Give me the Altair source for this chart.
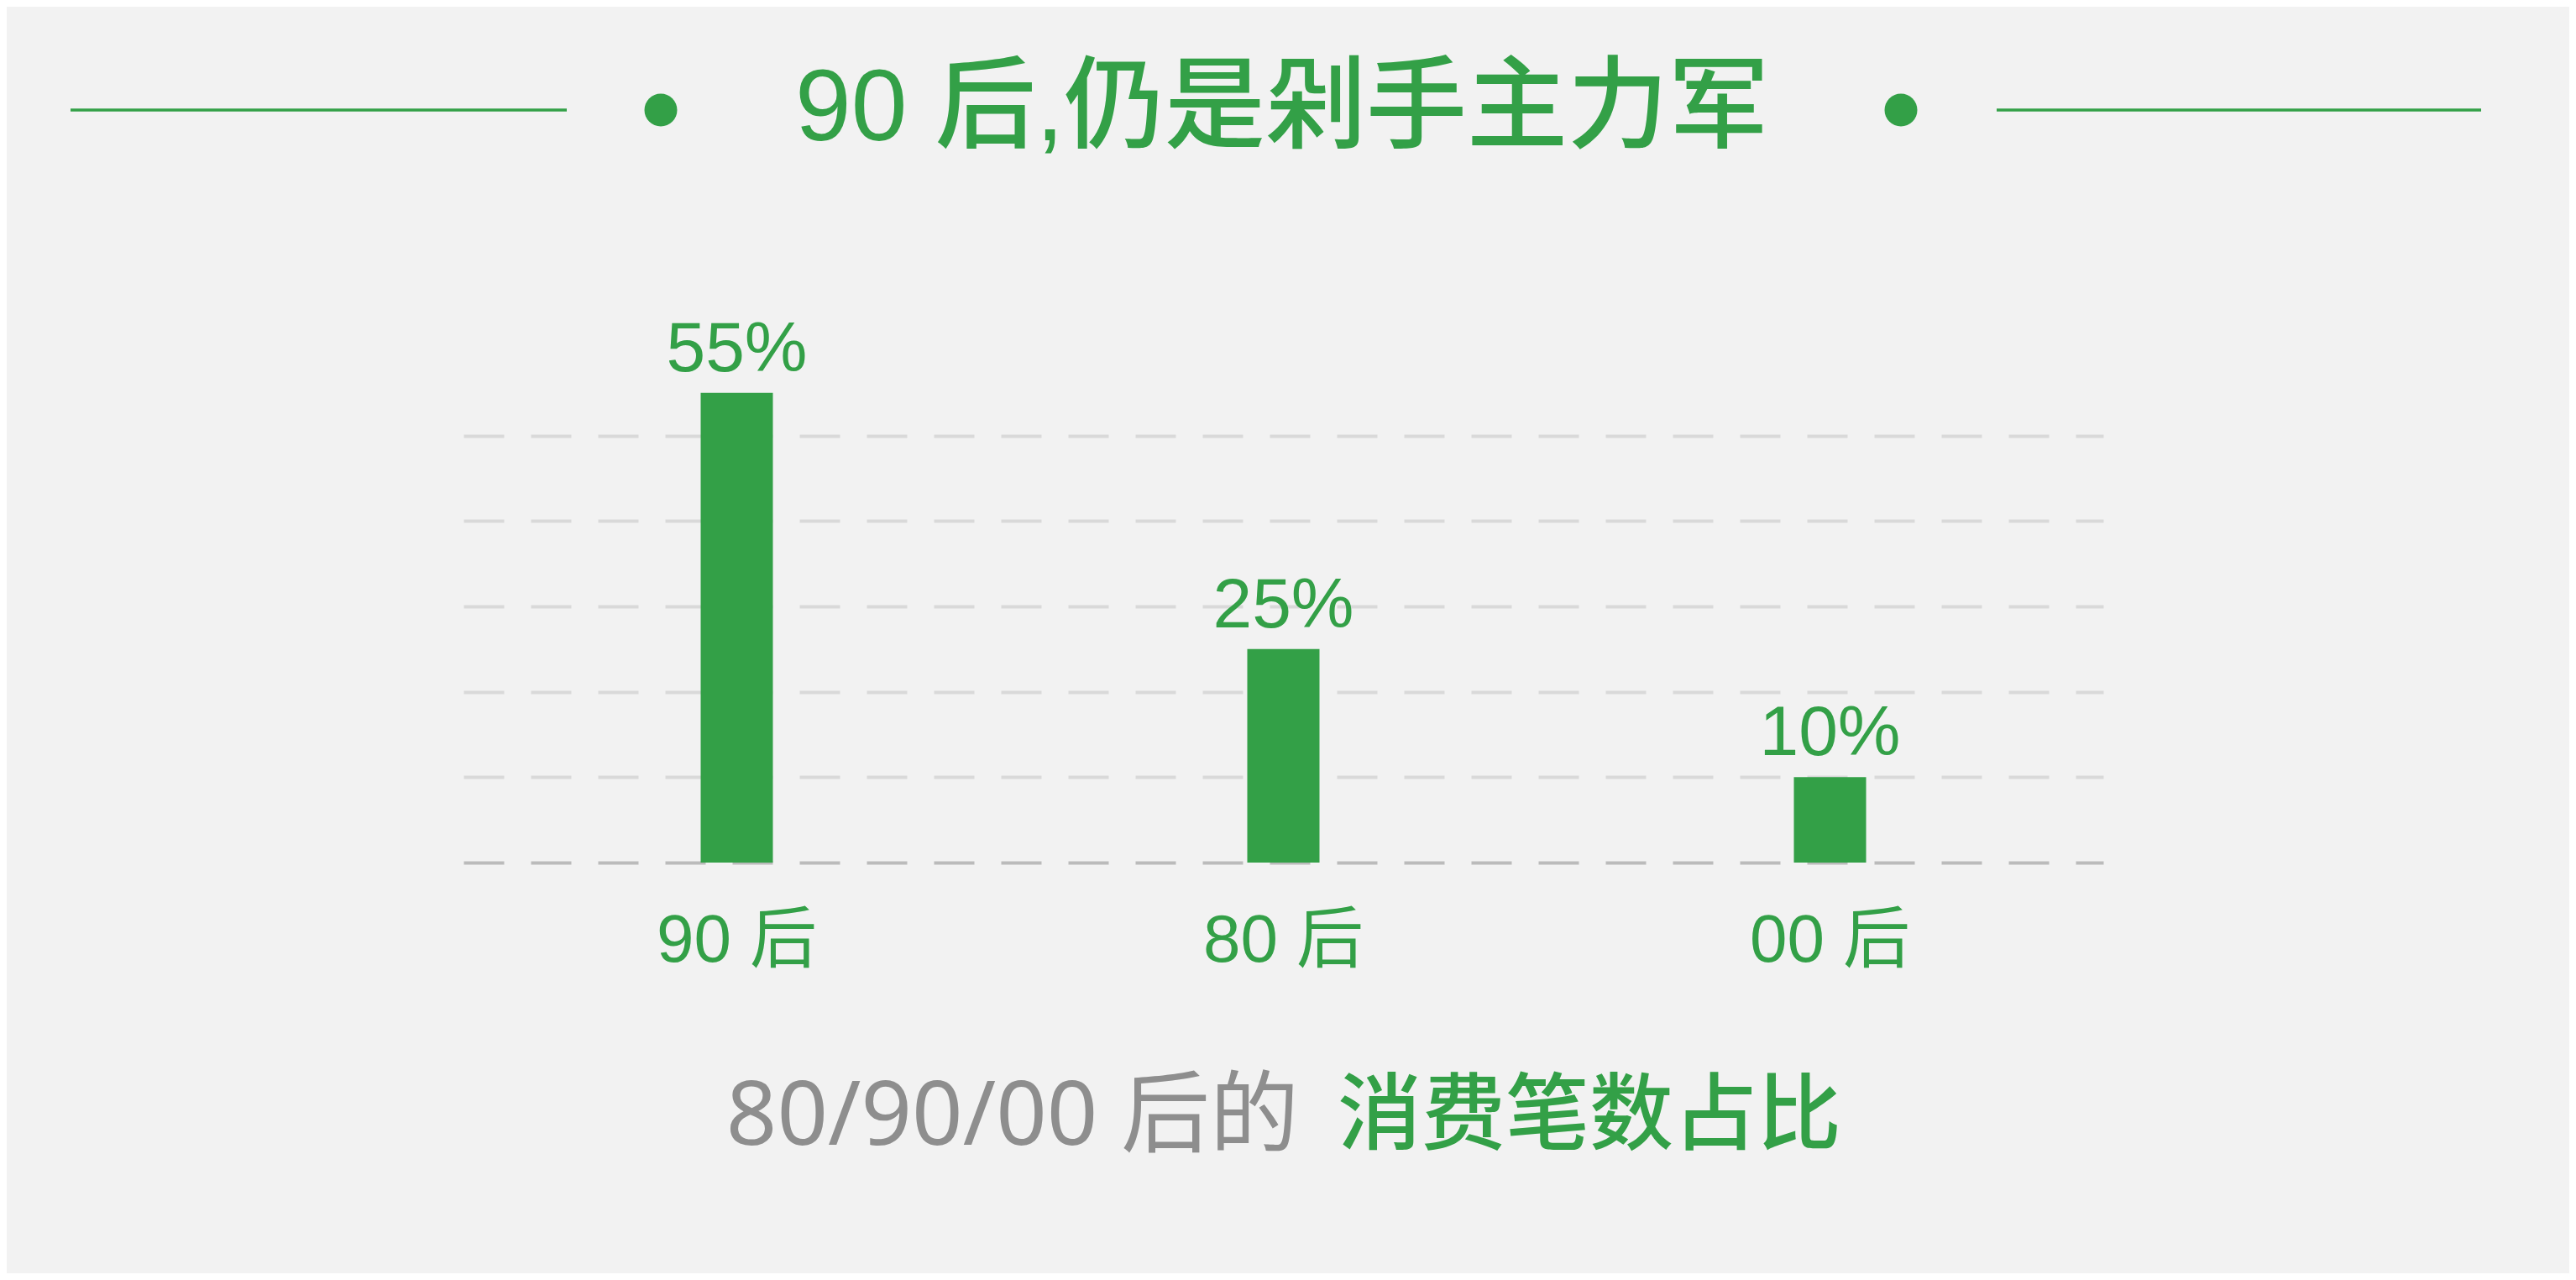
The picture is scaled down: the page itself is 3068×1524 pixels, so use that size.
import altair as alt
import pandas as pd

# ---- data ----
categories = ["90 后", "80 后", "00 后"]
shares = [55, 25, 10]
share_labels = ["55%", "25%", "10%"]
grid_values = [10, 20, 30, 40, 50]

title_text = "90 后,仍是剁手主力军"
subtitle_gray = "80/90/00 后的"
subtitle_green = "消费笔数占比"

GREEN = "#33A047"
GRAY_TEXT = "#8E8E8E"
BG = "#F2F2F2"
FONT = "Liberation Sans, Noto Sans CJK SC"
FONT2 = "Noto Sans, Noto Sans CJK SC"

df = pd.DataFrame({"cat": categories, "v": shares, "lab": share_labels})

xenc = alt.X(
    "cat:N",
    sort=categories,
    scale=alt.Scale(paddingInner=0, paddingOuter=0),
    axis=alt.Axis(
        title=None,
        labelAngle=0,
        labelFontSize=80,
        labelColor=GREEN,
        labelFont=FONT,
        labelPadding=54,
        labelLimit=1000,
        ticks=False,
        grid=False,
        domain=True,
        domainColor="#BBBBBB",
        domainWidth=4,
        domainDash=[48, 32],
    ),
)
yenc = alt.Y(
    "v:Q",
    scale=alt.Scale(domain=[0, 60], nice=False),
    axis=alt.Axis(
        title=None,
        values=grid_values,
        labels=False,
        ticks=False,
        domain=False,
        grid=True,
        gridColor="#D9D9D9",
        gridWidth=4,
        gridDash=[48, 32],
    ),
)

base = alt.Chart(df)
bars = base.mark_bar(color=GREEN, size=86).encode(x=xenc, y=yenc)
vals = base.mark_text(
    color=GREEN, fontSize=84, font=FONT, baseline="alphabetic", dy=-26
).encode(x=alt.X("cat:N", sort=categories), y="v:Q", text="lab:N")

one = pd.DataFrame({"a": [0]})

title = alt.Chart(pd.DataFrame({"t": [title_text]})).mark_text(
    color=GREEN, fontSize=120, fontWeight=500, font=FONT, baseline="middle", align="center"
).encode(x=alt.value(975), y=alt.value(-286), text="t:N")

line_l = alt.Chart(one).mark_rule(color=GREEN, strokeWidth=3.5).encode(
    x=alt.value(-468), x2=alt.value(123), y=alt.value(-286)
)
line_r = alt.Chart(one).mark_rule(color=GREEN, strokeWidth=3.5).encode(
    x=alt.value(1826), x2=alt.value(2403), y=alt.value(-286)
)
dot_l = alt.Chart(one).mark_circle(color=GREEN, opacity=1, size=1520).encode(
    x=alt.value(235), y=alt.value(-286)
)
dot_r = alt.Chart(one).mark_circle(color=GREEN, opacity=1, size=1520).encode(
    x=alt.value(1712), y=alt.value(-286)
)

sub_g = alt.Chart(pd.DataFrame({"t": [subtitle_gray]})).mark_text(
    color=GRAY_TEXT, fontSize=106, font=FONT2, baseline="middle", align="right"
).encode(x=alt.value(995), y=alt.value(914), text="t:N")
sub_h = alt.Chart(pd.DataFrame({"t": [subtitle_green]})).mark_text(
    color=GREEN, fontSize=100, fontWeight=500, font=FONT, baseline="middle", align="left"
).encode(x=alt.value(1041), y=alt.value(914), text="t:N")

chart = (
    alt.layer(bars, vals, title, line_l, line_r, dot_l, dot_r, sub_g, sub_h)
    .properties(
        width=1953,
        height=610,
        autosize=alt.AutoSizeParams(type="none"),
        padding={"left": 544, "top": 409, "right": 555, "bottom": 489},
        background=BG,
    )
    .configure_view(stroke=None)
)

chart.save("out.html", embed_options={"renderer": "svg", "actions": False})
